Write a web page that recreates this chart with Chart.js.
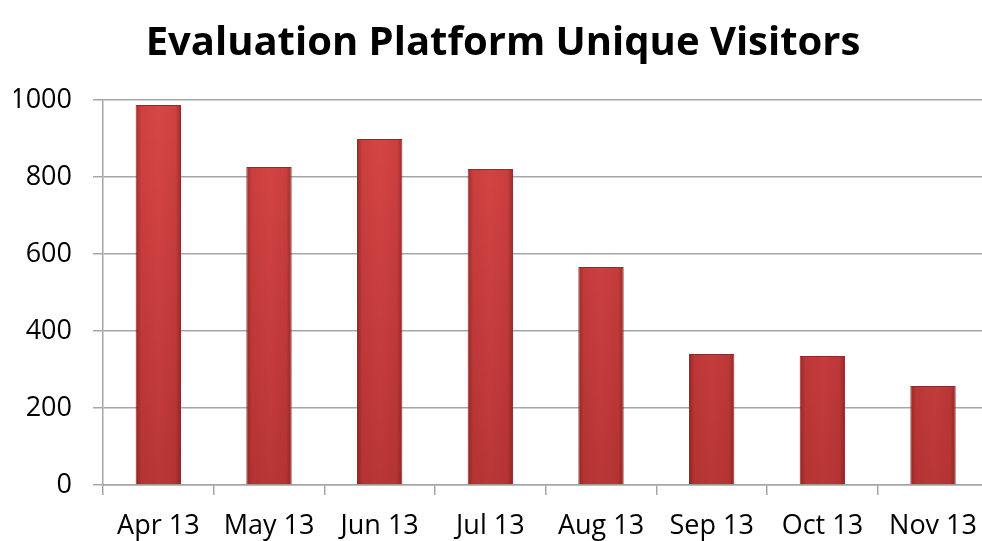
<!DOCTYPE html>
<html>
<head>
<meta charset="utf-8">
<script src="https://cdn.jsdelivr.net/npm/chart.js@4"></script>
<style>
  html, body { margin: 0; padding: 0; background: #fff; overflow: hidden; }
  #wrap { width: 982px; height: 541px; overflow: hidden; }
</style>
</head>
<body>
<div id="wrap"><canvas id="visitorsChart" width="992" height="541"></canvas></div>
<script>
const months = ['Apr 13', 'May 13', 'Jun 13', 'Jul 13', 'Aug 13', 'Sep 13', 'Oct 13', 'Nov 13'];
const visitors = [987, 826, 899, 821, 566, 340, 335, 257];
const yTicks = [0, 200, 400, 600, 800, 1000];

const gridGray = '#a6a6a6';
const fontFamily = "'Open Sans', 'Liberation Sans', sans-serif";
const barPct = 0.41;

// darker edges, brighter middle, like the old Excel bevel
function barFill(context) {
  const xs = context.chart.scales.x;
  if (!xs || xs.width == null) return '#cc3c3c';
  const cx = xs.getPixelForValue(context.dataIndex);
  const half = xs.width / months.length * barPct / 2;
  const g = context.chart.ctx.createLinearGradient(cx - half, 0, cx + half, 0);
  g.addColorStop(0, '#a12e2e');
  g.addColorStop(0.12, '#cf4141');
  g.addColorStop(0.5, '#d84646');
  g.addColorStop(0.88, '#cf4141');
  g.addColorStop(1, '#a12e2e');
  return g;
}

// shade bars toward the bottom
const bottomShade = {
  id: 'bottomShade',
  afterDatasetsDraw(chart) {
    const c = chart.ctx;
    const area = chart.chartArea;
    chart.getDatasetMeta(0).data.forEach(bar => {
      const g = c.createLinearGradient(0, area.top, 0, area.bottom);
      g.addColorStop(0, 'rgba(80,0,0,0)');
      g.addColorStop(1, 'rgba(80,0,0,0.22)');
      c.save();
      c.fillStyle = g;
      c.fillRect(bar.x - bar.width / 2 + 1, bar.y + 1, bar.width - 2, bar.base - bar.y - 1);
      c.restore();
    });
  }
};

const ctx = document.getElementById('visitorsChart').getContext('2d');
new Chart(ctx, {
  type: 'bar',
  data: {
    labels: months,
    datasets: [{
      label: 'Unique Visitors',
      data: visitors,
      backgroundColor: barFill,
      borderColor: '#8e2a2a',
      borderWidth: 1,
      barPercentage: barPct,
      categoryPercentage: 1
    }]
  },
  options: {
    responsive: false,
    animation: false,
    layout: { padding: { left: 14 } },
    plugins: {
      legend: { display: false },
      tooltip: { enabled: false },
      title: {
        display: true,
        text: 'Evaluation Platform Unique Visitors',
        color: '#000',
        font: { family: fontFamily, size: 40, weight: 'bold' },
        padding: { top: 20, bottom: 32 }
      }
    },
    scales: {
      x: {
        grid: {
          display: true,
          drawOnChartArea: false,
          color: gridGray,
          lineWidth: 1.5,
          tickLength: 10
        },
        border: { color: gridGray, width: 1.5 },
        ticks: {
          color: '#000',
          font: { family: fontFamily, size: 27 },
          padding: 15,
          maxRotation: 0
        },
        afterFit: s => { s.height = 56; }
      },
      y: {
        min: 0,
        max: 1000,
        afterBuildTicks: s => { s.ticks = yTicks.map(v => ({ value: v })); },
        grid: { color: gridGray, lineWidth: 1.5, tickLength: 10 },
        border: { color: gridGray, width: 1.5 },
        ticks: {
          color: '#000',
          font: { family: fontFamily, size: 27 },
          padding: 21,
          callback: v => String(v)
        },
        afterFit: s => { s.width = 89; }
      }
    }
  },
  plugins: [bottomShade]
});
</script>
</body>
</html>
